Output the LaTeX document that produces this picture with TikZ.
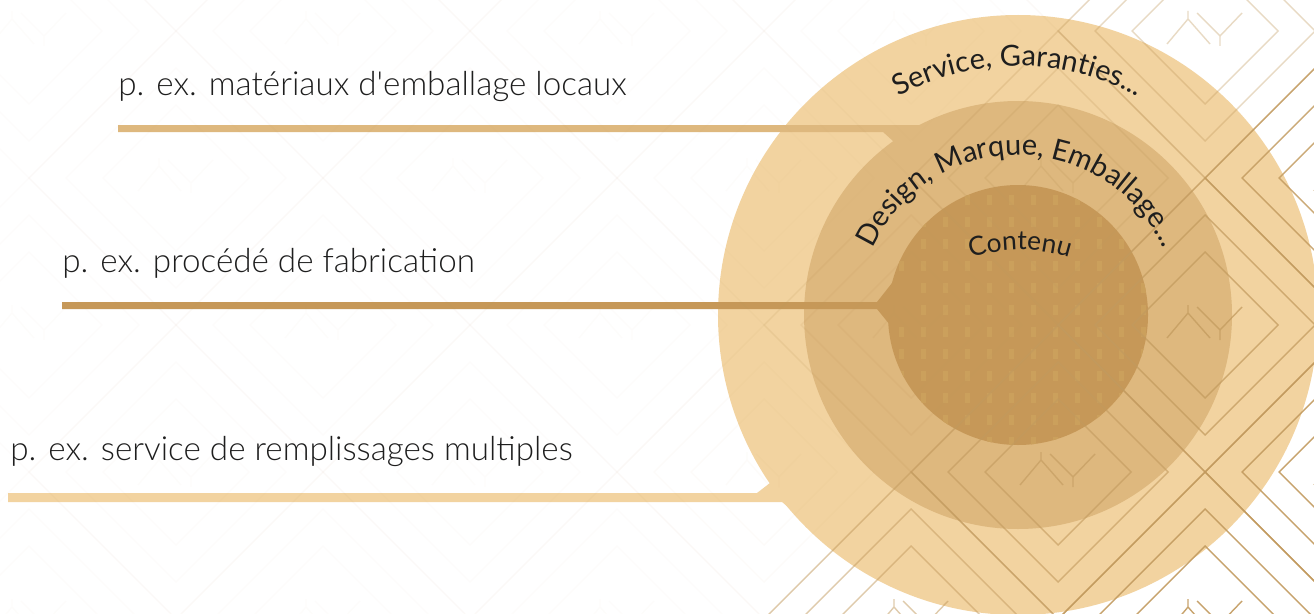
\documentclass[tikz,border=0pt]{standalone}
\usepackage{fontspec}
\IfFontExistsTF{Lato Light}{\setmainfont{Lato Light}}{\setmainfont{Lato}}
\newfontfamily\arcfamily{Lato}
\usetikzlibrary{decorations.text}

\definecolor{ringout}{HTML}{F2D3A0}
\definecolor{ringmid}{HTML}{DEB87E}
\definecolor{ringin}{HTML}{C69858}
\definecolor{dotgold}{HTML}{CBA05C}
\definecolor{linegold}{HTML}{C29A5E}
\definecolor{inktext}{HTML}{1E1E1E}

\newcommand{\labelfont}{\fontsize{18.9}{22}\selectfont}
\newcommand{\arcfont}{\arcfamily\fontsize{16.5}{19}\selectfont}
\newcommand{\contfont}{\arcfamily\fontsize{15}{18}\selectfont}

\tikzset{
  labeltext/.style={anchor=base west, inner sep=0pt, text=inktext, font=\labelfont},
  arctext/.style={decorate, decoration={text along path, text align=center, text color=inktext, text={|\arcfont|#1}}},
  conttext/.style={decorate, decoration={text along path, text align=center, text color=inktext, text={|\contfont|#1}}},
  lattice/.style={draw=linegold, line width=0.8pt},
}

\begin{document}
\begin{tikzpicture}[x=0.02cm, y=0.02cm]
    % Cadre
    \useasboundingbox (0,0) rectangle (1314,613);
    \clip (0,0) rectangle (1314,613);
    \fill[white] (0,0) rectangle (1314,613);

    % Cercles
    \coordinate (centre) at (1018,298);
    \coordinate (contcentre) at (1020,203);
    \fill[ringout] (centre) circle (300);
    \fill[ringmid] (centre) circle (214);

    % Liaison haut (vers l'anneau du milieu)
    \fill[ringmid] (118,488) -- (930,488) -- (930,460) -- (893,472) -- (883,481) -- (118,481) -- cycle;

    % Cercle central et ses petits traits
    \fill[ringin] (centre) circle (130);
    \begin{scope}
        \clip (centre) circle (130);
        \foreach \i in {0,...,13}
            \foreach \j in {-6,...,6}
                \fill[dotgold] (877+22*\i,298+22*\j) rectangle ++(5,10);
    \end{scope}

    % Liaison milieu (vers le centre)
    \fill[ringin] (62,311) -- (877,311) -- (892,330) -- (910,330) -- (910,285) -- (890,288) -- (877,304) -- (62,304) -- cycle;

    % Liaison bas (vers l'anneau exterieur)
    \fill[ringout] (8,120) -- (757,120) -- (770,130) -- (800,130) -- (800,96) -- (782,111) -- (8,111) -- cycle;

    % Motif de losanges
    \foreach \i in {-8,...,1}
        \foreach \j in {-1,...,5} {
            \pgfmathtruncatemacro\parite{mod(\i+\j+100,2)}
            \ifnum\parite=0
                \pgfmathsetmacro\cx{1205+147*\i}
                \pgfmathsetmacro\cy{582-147*\j}
                \pgfmathsetmacro\op{min(0.9,max(0.025,(\cx-950)/300*0.6+(613-\cy-150)/400*0.5))}
                \foreach \r in {73,110,147}
                    \draw[lattice, draw opacity=\op] (\cx,\cy) +(-\r,0) -- +(0,\r) -- +(\r,0) -- +(0,-\r) -- cycle;
                \draw[lattice, draw opacity=\op] (\cx,\cy) +(-17,20) -- +(-17,12) +(-38,-13) -- +(-17,12) -- +(5,-13);
                \draw[lattice, draw opacity=\op] (\cx,\cy) +(-8,18) -- +(15,-5) -- +(37,18) +(15,-5) -- +(15,-15);
            \fi
        }

    % Textes en arc
    \path[arctext={Service, Garanties...}] (centre) ++(160:249) arc[start angle=160, end angle=20, radius=249];
    \path[arctext={Design, Marque, Emballage...}] (centre) ++(170:160) arc[start angle=170, end angle=10, radius=160];
    \path[conttext={Contenu}] (contcentre) ++(120:160) arc[start angle=120, end angle=60, radius=160];

    % Etiquettes
    \node[labeltext] (lblpack) at (118,518) {p. ex. matériaux d\textquotesingle emballage locaux};
    \node[labeltext] (lblproc) at (62,341) {p. ex. procédé de fabrication};
    \node[labeltext] (lblserv) at (10,153) {p. ex. service de remplissages multiples};
\end{tikzpicture}
\end{document}
